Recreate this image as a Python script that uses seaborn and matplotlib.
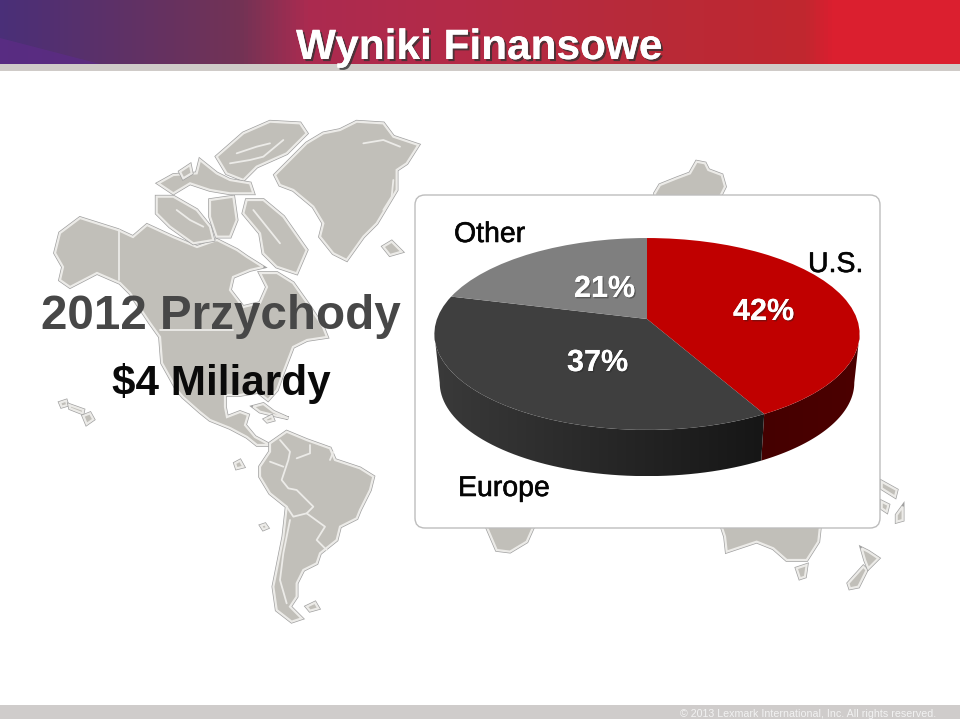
import numpy as np
import matplotlib
matplotlib.use("Agg")
import matplotlib.pyplot as plt
import matplotlib.patheffects as pe
import matplotlib.transforms as mtransforms
from matplotlib.colors import LinearSegmentedColormap
from matplotlib.patches import FancyBboxPatch, Polygon, Rectangle
import seaborn as sns

# data
regions = ["U.S.", "Europe", "Other"]
revenue_share = [42, 37, 21]
top_colors = ["#c00000", "#3f3f3f", "#7f7f7f"]
rim_colors = [["#450000", "#4c0000"], ["#3a3a3a", "#161616"], ["#7f7f7f", "#7f7f7f"]]

title = "Wyniki Finansowe"
headline = "2012 Przychody"
subhead = "$4 Miliardy"
footer = "\u00a9 2013 Lexmark International, Inc. All rights reserved."

# disc geometry (pixels), perspective squeezes the far side
CX, CY = 647.0, 319.0
AX_X, AX_Y, PERSP = 210.0, 93.6, 0.156
RIM_SCALE, RIM_DROP = 0.975, 49.0


class DiscProjection(mtransforms.Transform):
    input_dims = 2
    output_dims = 2

    def transform_non_affine(self, xy):
        xy = np.asarray(xy, dtype=float)
        w = 1 + PERSP * xy[:, 1]
        return np.column_stack([CX + AX_X * xy[:, 0] / w, CY - AX_Y * xy[:, 1] / w])


def rim_outline(a0, a1, n=60):
    th = np.radians(np.linspace(a0, a1, n))
    top = DiscProjection().transform_non_affine(np.column_stack([np.sin(th), np.cos(th)]))
    low = top.copy()
    low[:, 0] = CX + (top[:, 0] - CX) * RIM_SCALE
    low[:, 1] = CY + (top[:, 1] - CY) * RIM_SCALE + RIM_DROP
    return np.vstack([top, low[::-1]])


# ---- land outlines, traced roughly (px) ----
def from_nw(pts):
    return [(30 + x / 3, 110 + y / 3) for x, y in pts]

def from_sw(pts):
    return [(40 + x / 3, 380 + y / 3) for x, y in pts]

def from_se(pts):
    return [(470 + x / 3, 470 + y / 3) for x, y in pts]

def from_ne(pts):
    return [(640 + x / 3, 150 + y / 3) for x, y in pts]


land = [
    # north america
    [(55, 253), (60, 233), (80, 218), (118, 230), (133, 237), (147, 225), (173, 237), (197, 247),
     (217, 240), (237, 250), (247, 257), (263, 267), (250, 270), (233, 277), (230, 290), (243, 307),
     (260, 303), (267, 287), (260, 273), (277, 273), (293, 283), (310, 307), (323, 327), (327, 337),
     (307, 340), (293, 347), (283, 373), (277, 390), (268, 400), (258, 392), (240, 395), (225, 395),
     (225, 407), (227, 417), (240, 412), (248, 415), (245, 425), (255, 437), (270, 445), (257, 445),
     (247, 437), (230, 428), (210, 420), (200, 412), (183, 397), (177, 390), (162, 363), (160, 337),
     (150, 323), (130, 293), (120, 283), (97, 273), (70, 287), (60, 280), (63, 267)],
    from_sw([(690, 190), (740, 155), (800, 180), (870, 205), (885, 240), (960, 265), (1000, 290),
             (990, 330), (960, 390), (950, 415), (900, 440), (890, 480), (840, 520), (830, 550),
             (790, 570), (770, 610), (770, 650), (750, 680), (785, 715), (755, 725), (710, 690),
             (700, 620), (710, 570), (730, 470), (740, 380), (690, 340), (660, 290), (660, 260),
             (690, 215)]),
    # greenland and arctic
    from_nw([(735, 195), (790, 140), (830, 100), (880, 70), (930, 60), (980, 35), (1060, 40),
             (1090, 80), (1165, 105), (1130, 160), (1100, 180), (1100, 240), (1070, 290), (1040, 340),
             (1000, 380), (950, 450), (910, 430), (870, 380), (880, 340), (850, 290), (790, 240),
             (750, 225)]),
    from_nw([(650, 270), (700, 270), (760, 320), (830, 420), (800, 490), (740, 470), (700, 430),
             (690, 370), (640, 310)]),
    from_nw([(380, 260), (430, 260), (500, 300), (540, 350), (550, 390), (490, 400), (420, 350),
             (380, 310)]),
    from_nw([(540, 270), (610, 260), (620, 330), (600, 380), (560, 380), (540, 320)]),
    from_nw([(560, 140), (640, 70), (720, 35), (810, 40), (830, 70), (770, 130), (680, 170),
             (640, 210), (590, 190)]),
    from_nw([(385, 220), (430, 195), (500, 190), (510, 150), (560, 190), (600, 210), (660, 220),
             (670, 250), (600, 250), (540, 240), (480, 220), (430, 250)]),
    from_nw([(450, 185), (480, 165), (485, 190), (460, 205)]),
    from_nw([(1060, 410), (1085, 395), (1115, 425), (1080, 435)]),
    # small islands
    from_sw([(60, 68), (78, 62), (82, 75), (65, 80)]),
    from_sw([(88, 75), (130, 90), (128, 100), (90, 85)]),
    from_sw([(130, 108), (150, 100), (160, 118), (140, 132)]),
    from_sw([(585, 250), (600, 242), (610, 260), (590, 265)]),
    from_sw([(663, 437), (675, 433), (682, 443), (670, 448)]),
    from_sw([(800, 680), (825, 668), (835, 685), (810, 692)]),
    from_sw([(640, 80), (670, 72), (700, 95), (745, 115), (700, 105), (660, 95)]),
    from_sw([(675, 118), (695, 108), (700, 120), (682, 125)]),
    # pieces around the card
    from_ne([(45, 130), (60, 105), (110, 85), (150, 70), (170, 35), (195, 40), (205, 60), (245, 75),
             (255, 110), (240, 140), (45, 140)]),
    from_se([(50, 170), (190, 170), (170, 215), (120, 245), (80, 240)]),
    from_se([(755, 170), (1050, 170), (1045, 215), (1010, 270), (950, 270), (910, 235), (860, 215),
             (770, 245), (765, 200)]),
    from_se([(980, 295), (1010, 285), (1005, 320), (990, 325)]),
    from_se([(1135, 340), (1180, 290), (1190, 300), (1165, 350), (1140, 355)]),
    from_se([(1175, 235), (1195, 245), (1225, 265), (1195, 295), (1185, 270)]),
    from_se([(1235, 35), (1280, 60), (1275, 80), (1235, 55)]),
    from_se([(1235, 95), (1255, 105), (1250, 125), (1235, 115)]),
    from_se([(1280, 135), (1298, 110), (1298, 150), (1280, 155)]),
]

borders = [
    from_nw([(268, 360), (268, 510)]),
    from_nw([(390, 660), (610, 660)]),
    from_sw([(690, 245), (730, 260)]),
    from_sw([(720, 180), (750, 215), (745, 240), (725, 300), (745, 325), (770, 330), (820, 380),
             (800, 400), (760, 410), (740, 380)]),
    from_sw([(800, 400), (855, 440), (830, 480), (860, 510)]),
    from_sw([(750, 420), (730, 520), (720, 600), (740, 670)]),
    from_sw([(810, 195), (810, 220), (770, 235)]),
    from_sw([(880, 215), (870, 240)]),
    # fiords and channels in the arctic
    from_nw([(620, 130), (680, 110), (720, 100)]),
    from_nw([(600, 160), (660, 150), (700, 140), (760, 90)]),
    from_nw([(670, 300), (710, 350), (750, 400)]),
    from_nw([(440, 300), (480, 330), (520, 350)]),
    from_nw([(1000, 100), (1060, 90), (1110, 110)]),
    from_nw([(1060, 300), (1085, 260), (1090, 210)]),
]

# ---- figure ----
sns.set_theme(style="white")
plt.rcParams["font.family"] = ["Liberation Sans", "DejaVu Sans"]

fig = plt.figure(figsize=(9.6, 7.19), dpi=100, facecolor="white")
ax = fig.add_axes([0, 0, 1, 1])

for shape in land:
    ax.fill(*zip(*shape), facecolor="#c1bfb9", edgecolor="#ecebe8", linewidth=1.6, zorder=1,
            path_effects=[pe.withStroke(linewidth=2.6, foreground="#a0a0a0")])
for line in borders:
    ax.plot(*zip(*line), color="#ecebe8", linewidth=1.3, zorder=2)

# header band
band = LinearSegmentedColormap.from_list(
    "band",
    [(0, "#4a2f78"), (0.25, "#733355"), (0.32, "#ab2b50"), (0.47, "#b42a48"),
     (0.68, "#b82a38"), (0.84, "#c1272f"), (0.87, "#db1f2f"), (1, "#db1f2f")],
)
ax.imshow(np.linspace(0, 1, 480)[None, :], cmap=band, extent=(0, 960, 64, 0), aspect="auto", zorder=3)
ax.fill([0, 0, 100], [38, 64, 64], facecolor="#5c2c85", edgecolor="none", alpha=0.8, zorder=3)
ax.add_patch(Rectangle((0, 64), 960, 7, facecolor="#cfcbc8", edgecolor="none", zorder=3))
ax.add_patch(Rectangle((0, 705), 960, 14, facecolor="#cfcccb", edgecolor="none", zorder=3))

# card
ax.add_patch(FancyBboxPatch((425, 205), 445, 313, boxstyle="round,pad=10,rounding_size=10",
                            facecolor="white", edgecolor="#bdbdbd", linewidth=1.0, zorder=4))

# rim as a shaded strip per slice, only the near side shows, then the disc on top
ends = np.cumsum(revenue_share) * 3.6
starts = np.r_[0, ends[:-1]]
near_from = np.degrees(np.arccos(-PERSP))
near_to = 360 - near_from
for a0, a1, pair in zip(starts, ends, rim_colors):
    a0, a1 = max(a0, near_from), min(a1, near_to)
    if a0 >= a1:
        continue
    outline = rim_outline(a0, a1)
    x0, x1 = outline[:, 0].min(), outline[:, 0].max()
    y0, y1 = outline[:, 1].min(), outline[:, 1].max()
    shade = ax.imshow(np.linspace(0, 1, 256)[None, :], cmap=sns.blend_palette(pair, as_cmap=True),
                      extent=(x0, x1, y1, y0), aspect="auto", zorder=5)
    shade.set_clip_path(Polygon(outline, transform=ax.transData))

wedges, _ = ax.pie(revenue_share, colors=top_colors, startangle=90, counterclock=False,
                   wedgeprops=dict(linewidth=0, zorder=6))
disc = DiscProjection() + ax.transData
for w in wedges:
    w.set_transform(disc)

# labels
pct_spots = [(733, 320), (567, 371), (574, 297)]
for val, (x, y) in zip(revenue_share, pct_spots):
    ax.text(x, y, f"{val}%", color="white", fontsize=22, fontweight="bold", zorder=8,
            path_effects=[pe.withSimplePatchShadow(offset=(1, -1), shadow_rgbFace="#222222", alpha=0.4),
                          pe.Normal()])

name_spots = [(808, 272), (458, 496), (454, 242)]
for name, (x, y) in zip(regions, name_spots):
    ax.text(x, y, name, color="#050505", fontsize=20.5, zorder=8,
            path_effects=[pe.withStroke(linewidth=0.4, foreground="#050505")])

ax.text(296, 59, title, color="white", fontsize=30.5, fontweight="bold", zorder=8,
        path_effects=[pe.withSimplePatchShadow(offset=(1.5, -1.5), shadow_rgbFace="#333333", alpha=0.8),
                      pe.Normal()])
ax.text(41, 329, headline, color="#474747", fontsize=34.3, fontweight="bold", zorder=8)
ax.text(112, 395, subhead, color="#0a0a0a", fontsize=30.4, fontweight="bold", zorder=8)
ax.text(680, 717, footer, color="#f2f2f2", fontsize=7.7, zorder=8)

ax.set_aspect("auto")
ax.set_xlim(0, 960)
ax.set_ylim(719, 0)
ax.axis("off")

fig.savefig("out.png", dpi=100)
